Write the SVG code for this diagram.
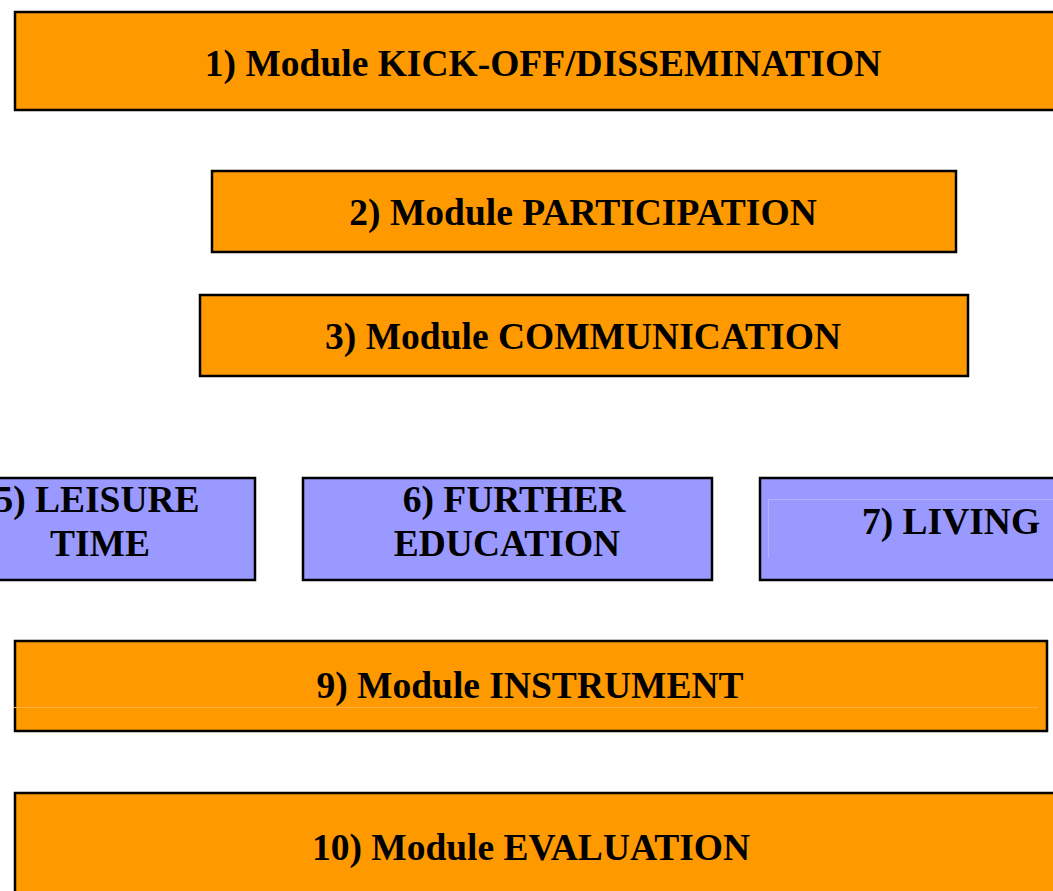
<svg xmlns="http://www.w3.org/2000/svg" width="1053" height="891" viewBox="0 0 1053 891">
<style>
.o{fill:#FF9900;stroke:#000;stroke-width:2.5}
.b{fill:#9999FF;stroke:#000;stroke-width:2.5}
.t{font-family:"Liberation Serif","Times New Roman",serif;font-weight:bold;font-size:37.5px;fill:#000;text-anchor:middle}
</style>
<rect width="1053" height="891" fill="#fff"/>
<g id="n1"><rect class="o" x="15" y="12" width="1050" height="98"/><text class="t" x="543" y="76">1) Module KICK-OFF/DISSEMINATION</text></g>
<g id="n2"><rect class="o" x="212" y="171" width="744" height="81"/><text class="t" x="583" y="225">2) Module PARTICIPATION</text></g>
<g id="n3"><rect class="o" x="200" y="295" width="768" height="81"/><text class="t" x="583" y="349">3) Module COMMUNICATION</text></g>
<g id="n5"><rect class="b" x="-10" y="478" width="265" height="102"/><text class="t" x="97" y="512">5) LEISURE</text><text class="t" x="100" y="556">TIME</text></g>
<g id="n6"><rect class="b" x="303" y="478" width="409" height="102"/><text class="t" x="514" y="512">6) FURTHER</text><text class="t" x="507" y="556">EDUCATION</text></g>
<g id="n7"><rect class="b" x="760" y="478" width="310" height="102"/><line x1="768" y1="499.5" x2="1053" y2="499.5" stroke="#b0b0ff" stroke-width="1"/><line x1="768.5" y1="499" x2="768.5" y2="558" stroke="#b0b0ff" stroke-width="1"/><text class="t" x="951" y="534">7) LIVING</text></g>
<g id="n9"><rect class="o" x="15" y="641" width="1032" height="90"/><line x1="14" y1="707.5" x2="1038" y2="707.5" stroke="#ffb040" stroke-width="1"/><text class="t" x="530" y="698">9) Module INSTRUMENT</text></g>
<g id="n10"><rect class="o" x="15" y="793" width="1050" height="110"/><text class="t" x="531" y="860">10) Module EVALUATION</text></g>
<g id="connectors"></g>
</svg>
